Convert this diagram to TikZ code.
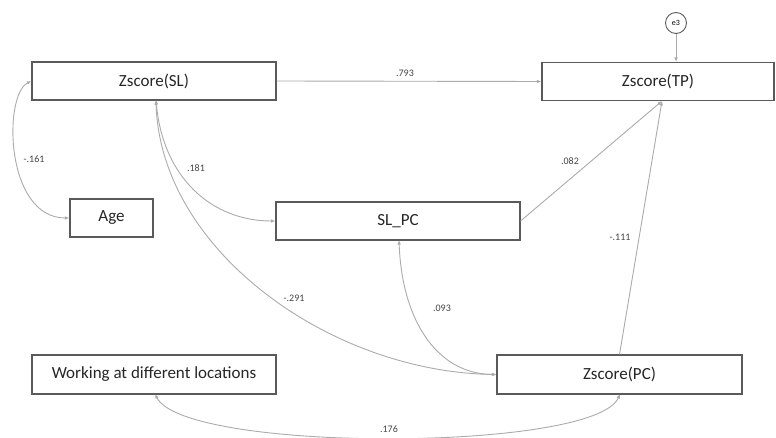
\documentclass[tikz,border=0pt]{standalone}
\usepackage{fontspec}
\setmainfont{Carlito}
\usetikzlibrary{arrows.meta}
\definecolor{boxline}{HTML}{5A5A5A}
\definecolor{conn}{HTML}{ABABAB}
\definecolor{lbl}{HTML}{444444}
\begin{document}
\begin{tikzpicture}[x=1pt,y=-1pt,
  var/.style={draw=boxline,line width=1.1pt,minimum height=38pt,inner sep=0pt,
    font=\fontsize{17}{20}\selectfont,text=black!85},
  err/.style={circle,draw=boxline,line width=0.9pt,minimum size=21pt,inner sep=0pt,
    font=\fontsize{8}{9}\selectfont},
  path1/.style={draw=conn,line width=0.9pt,-{Latex[length=4.5pt,width=3.6pt]}},
  cov/.style={draw=conn,line width=0.9pt,{Latex[length=4.5pt,width=3.6pt]}-{Latex[length=4.5pt,width=3.6pt]}},
  coef/.style={font=\fontsize{10}{12}\selectfont,text=lbl,inner sep=1pt}]
\useasboundingbox (0,0) rectangle (776,438);
\node[var,minimum width=244pt] (sl) at (154,81) {Zscore(SL)};
\node[var,minimum width=232pt] (tp) at (658,81.5) {Zscore(TP)};
\node[var,minimum width=83pt] (age) at (111.5,218) {Age};
\node[var,minimum width=244pt] (slpc) at (398,221) {SL\_PC};
\node[var,minimum width=244pt,minimum height=39pt] (work) at (154,374.5) {Working at different locations};
\node[var,minimum width=245pt,minimum height=39pt] (pc) at (619.5,374.5) {Zscore(PC)};
\node[err] (e3) at (676,23) {e3};
\coordinate (tpin) at (662,101);
\coordinate (tpe3) at (676,62);
\coordinate (slb) at (156,100);
\coordinate (slpcb) at (399,240);
\coordinate (workb) at (155,394);
\coordinate (pcb) at (620,394);

\draw[path1] (sl.east) -- (tp.west);
\draw[path1] (e3.south) -- (tpe3);
\draw[path1] (slpc.east) -- (tpin);
\draw[path1] (pc.north) -- (tpin);

\draw[cov] (sl.west) .. controls (3,95) and (5,218) .. (age.west);
\draw[cov] (slb) .. controls (163,178) and (212,221) .. (slpc.west);
\draw[cov] (slb) .. controls (160,250) and (330,372) .. (pc.west);
\draw[cov] (slpcb) .. controls (402,322) and (438,374) .. (pc.west);
\draw[cov] (workb) .. controls (185,453) and (595,452) .. (pcb);

\node[coef] (c1) at (405,73) {.793};
\node[coef] (c2) at (570,161) {.082};
\node[coef] (c3) at (620,237) {-.111};
\node[coef] (c4) at (34,159) {-.161};
\node[coef] (c5) at (196,168) {.181};
\node[coef] (c6) at (294,298) {-.291};
\node[coef] (c7) at (442,308) {.093};
\node[coef] (c8) at (389,429) {.176};
\end{tikzpicture}
\end{document}
